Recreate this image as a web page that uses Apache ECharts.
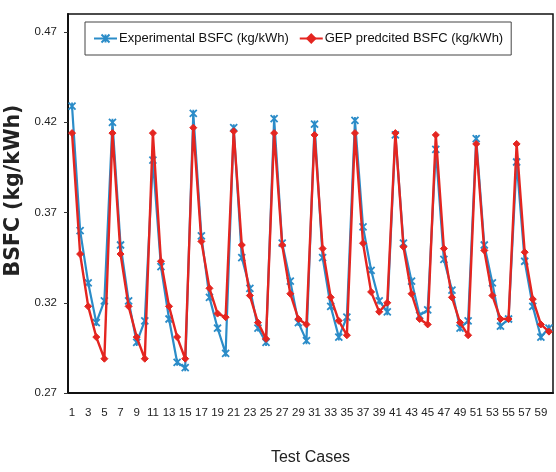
<!DOCTYPE html>
<html>
<head>
<meta charset="utf-8">
<script src="https://cdn.jsdelivr.net/npm/echarts@6/dist/echarts.min.js"></script>
<style>
  html, body { margin: 0; padding: 0; background: #fff; }
  #chart { width: 556px; height: 472px; }
</style>
</head>
<body>
<div id="chart"></div>
<script>
// Test case numbers 1..60
const testCases = [
  '1','2','3','4','5','6','7','8','9','10',
  '11','12','13','14','15','16','17','18','19','20',
  '21','22','23','24','25','26','27','28','29','30',
  '31','32','33','34','35','36','37','38','39','40',
  '41','42','43','44','45','46','47','48','49','50',
  '51','52','53','54','55','56','57','58','59','60'
];

// Measured BSFC (kg/kWh)
const experimentalBSFC = [
  0.429, 0.360, 0.331, 0.309, 0.321, 0.420, 0.352, 0.321, 0.298, 0.310,
  0.399, 0.340, 0.311, 0.287, 0.284, 0.425, 0.357, 0.323, 0.306, 0.292,
  0.417, 0.345, 0.328, 0.306, 0.298, 0.422, 0.353, 0.332, 0.309, 0.299,
  0.419, 0.345, 0.318, 0.301, 0.312, 0.421, 0.362, 0.338, 0.321, 0.315,
  0.413, 0.353, 0.332, 0.313, 0.316, 0.405, 0.344, 0.327, 0.306, 0.310,
  0.411, 0.352, 0.331, 0.307, 0.311, 0.398, 0.343, 0.318, 0.301, 0.306
];

// GEP model predictions (kg/kWh)
const gepPredictedBSFC = [
  0.414, 0.347, 0.318, 0.301, 0.289, 0.414, 0.347, 0.318, 0.301, 0.289,
  0.414, 0.343, 0.318, 0.301, 0.289, 0.417, 0.354, 0.328, 0.314, 0.312,
  0.415, 0.352, 0.324, 0.309, 0.300, 0.414, 0.352, 0.325, 0.311, 0.308,
  0.413, 0.350, 0.323, 0.310, 0.302, 0.414, 0.353, 0.326, 0.315, 0.320,
  0.414, 0.351, 0.325, 0.311, 0.308, 0.413, 0.350, 0.323, 0.309, 0.302,
  0.408, 0.349, 0.324, 0.311, 0.311, 0.408, 0.348, 0.322, 0.308, 0.304
];

const yTicks = { min: 0.27, max: 0.48, step: 0.05 };

const sans = "'Liberation Sans', Arial, sans-serif";
const blue = '#2b8cc8';
const red = '#e42520';
// asterisk-style marker: an X with a vertical stroke
const starPath = 'path://M0,0L10,10M10,0L0,10M5,0L5,10';

const chart = echarts.init(document.getElementById('chart'), null, { renderer: 'canvas' });

chart.setOption({
  animation: false,
  backgroundColor: '#ffffff',
  grid: {
    left: 68, right: 3, top: 14, bottom: 79,
    outerBoundsMode: 'none',
    containLabel: false,
    show: true, borderColor: '#111', borderWidth: 1.5, backgroundColor: '#fff'
  },
  legend: {
    left: 85, top: 22,
    width: 460,
    padding: [10, 8, 10, 8],
    borderColor: '#444', borderWidth: 1,
    itemWidth: 23, itemHeight: 10, itemGap: 10,
    textStyle: { fontFamily: sans, fontSize: 13, color: '#111', padding: [0, 0, 0, -3] },
    data: ['Experimental BSFC (kg/kWh)', 'GEP predcited BSFC (kg/kWh)']
  },
  xAxis: {
    type: 'category',
    data: testCases,
    boundaryGap: true,
    name: 'Test Cases',
    nameLocation: 'middle',
    nameGap: 57,
    nameTextStyle: { fontFamily: sans, fontSize: 16, color: '#222' },
    axisLine: { lineStyle: { color: '#111', width: 2 } },
    axisTick: { interval: 4, length: 4, lineStyle: { color: '#555' } },
    axisLabel: { interval: 1, fontFamily: sans, fontSize: 11.5, color: '#222', margin: 14 },
    splitLine: { show: false }
  },
  yAxis: {
    type: 'value',
    min: yTicks.min, max: yTicks.max, interval: yTicks.step,
    name: 'BSFC (kg/kWh)',
    nameLocation: 'middle',
    nameRotate: 90,
    nameGap: 44,
    nameTextStyle: {
      fontFamily: "'DejaVu Sans', sans-serif", fontWeight: 'bold', fontSize: 20.5, color: '#222',
      padding: [0, 0, 0, 26]
    },
    axisLine: { show: true, lineStyle: { color: '#111', width: 2 } },
    axisTick: { show: true, length: 4, lineStyle: { color: '#333' } },
    axisLabel: {
      fontFamily: sans, fontSize: 11.5, color: '#222', margin: 11,
      showMaxLabel: false,
      formatter: v => v.toFixed(2)
    },
    splitLine: { show: false }
  },
  series: [
    {
      name: 'Experimental BSFC (kg/kWh)',
      type: 'line',
      data: experimentalBSFC,
      symbol: starPath,
      symbolSize: 7,
      showAllSymbol: true,
      lineStyle: { color: blue, width: 2.2 },
      itemStyle: { color: blue, borderColor: blue, borderWidth: 1.8 },
      z: 2
    },
    {
      name: 'GEP predcited BSFC (kg/kWh)',
      type: 'line',
      data: gepPredictedBSFC,
      symbol: 'diamond',
      symbolSize: 7,
      showAllSymbol: true,
      lineStyle: { color: red, width: 2.4 },
      itemStyle: { color: red, borderColor: red, borderWidth: 1 },
      z: 3
    }
  ]
});
</script>
</body>
</html>
